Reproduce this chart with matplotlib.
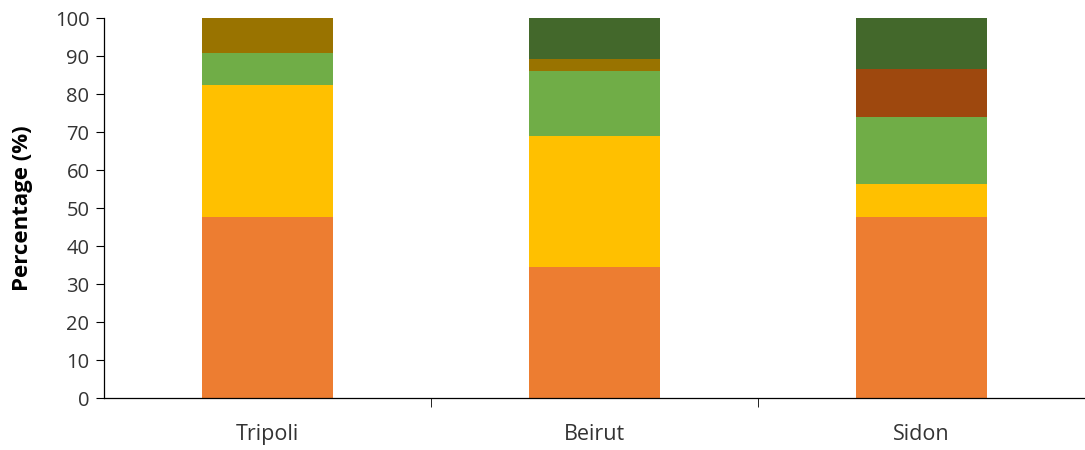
import matplotlib.pyplot as plt
import numpy as np

cities = ["Tripoli", "Beirut", "Sidon"]

# stacked segments, bottom to top (percent)
orange = [47.6, 34.4, 47.6]
yellow = [34.8, 34.5, 8.8]
green = [8.5, 17.2, 17.5]
olive = [9.1, 3.1, 0.0]
brown = [0.0, 0.0, 12.7]
dark_green = [0.0, 10.8, 13.4]

series = [orange, yellow, green, olive, brown, dark_green]
colors = ["#ED7D31", "#FFC000", "#70AD47", "#997300", "#9E480E", "#43682B"]

plt.rcParams['font.family'] = ['Open Sans', 'DejaVu Sans']

fig = plt.figure(figsize=(10.85, 4.5), dpi=100)
ax = fig.add_axes([104 / 1085, 52 / 450, 981 / 1085, 380 / 450])

x = np.arange(len(cities))
bottom = np.zeros(len(cities))
for vals, c in zip(series, colors):
    ax.bar(x, vals, bottom=bottom, width=0.4, color=c, linewidth=0)
    bottom += np.array(vals)

ax.set_xlim(-0.5, 2.5)
ax.set_ylim(0, 100)
ax.set_yticks(range(0, 101, 10))
ax.set_xticks(x)
ax.set_xticklabels(cities)
ax.set_xticks([0.5, 1.5], minor=True)
ax.tick_params(axis='x', which='major', length=0, labelsize=15.5, pad=19, colors='#333333')
ax.tick_params(axis='x', which='minor', length=6.5, direction='out', color='#000000')
ax.tick_params(axis='y', length=5.5, direction='out', labelsize=14.5, pad=5, labelcolor='#333333')
ax.set_ylabel("Percentage (%)", fontsize=16, fontweight='bold', labelpad=16)

for s in ['top', 'right']:
    ax.spines[s].set_visible(False)
for s in ['left', 'bottom']:
    ax.spines[s].set_linewidth(0.9)

fig.savefig("out.png", dpi=100)
